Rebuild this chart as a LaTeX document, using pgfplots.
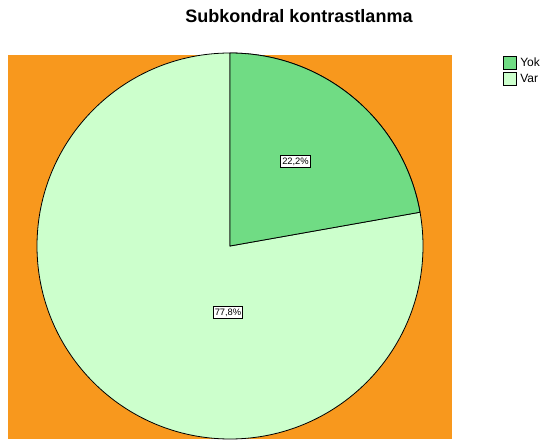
\documentclass[border=0pt]{standalone}
\usepackage{pgfplots}
\pgfplotsset{compat=1.18}
\usepackage{fontspec}
\setmainfont{Liberation Sans}
\definecolor{yok}{RGB}{112,220,132}
\definecolor{var}{RGB}{204,255,204}
\definecolor{bg}{RGB}{248,152,29}
\begin{document}
\begin{tikzpicture}[x=0.75pt,y=0.75pt]
% values (percent)
\def\vYok{22.2}
\def\vVar{77.8}
\pgfmathsetmacro\aEnd{90-\vYok*3.6}
\begin{axis}[
  width=409.5pt, height=329.25pt, scale only axis,
  xmin=0, xmax=546, ymin=0, ymax=439,
  hide axis, clip=false,
]
\path (axis cs:0,0) rectangle (axis cs:546,439);
\fill[bg] (axis cs:8,0) rectangle (axis cs:452,384);
\filldraw[fill=var, draw=black, line width=0.6pt] (axis cs:230,193) -- (axis cs:230,386) arc[start angle=90, end angle={\aEnd-360}, radius=144.75pt] -- cycle;
\filldraw[fill=yok, draw=black, line width=0.6pt] (axis cs:230,193) -- (axis cs:230,386) arc[start angle=90, end angle=\aEnd, radius=144.75pt] -- cycle;
\node[draw=black, fill=white, inner xsep=1.2pt, inner ysep=1.6pt, line width=0.6pt, font=\fontsize{7}{8}\selectfont] at (axis cs:295.5,277.5) {22,2\%};
\node[draw=black, fill=white, inner xsep=1.2pt, inner ysep=1.6pt, line width=0.6pt, font=\fontsize{7}{8}\selectfont] at (axis cs:228,126.5) {77,8\%};
\node[font=\bfseries\fontsize{13.5}{15}\selectfont] at (axis cs:299,423) {Subkondral kontrastlanma};
\filldraw[fill=yok, draw=black, line width=0.5pt] (axis cs:503,383) rectangle (axis cs:516,370);
\filldraw[fill=var, draw=black, line width=0.5pt] (axis cs:503,367) rectangle (axis cs:516,354);
\node[anchor=west, inner sep=0pt, font=\fontsize{9}{10}\selectfont] at (axis cs:520,376.5) {Yok};
\node[anchor=west, inner sep=0pt, font=\fontsize{9}{10}\selectfont] at (axis cs:520,360.5) {Var};
\end{axis}
\end{tikzpicture}
\end{document}
